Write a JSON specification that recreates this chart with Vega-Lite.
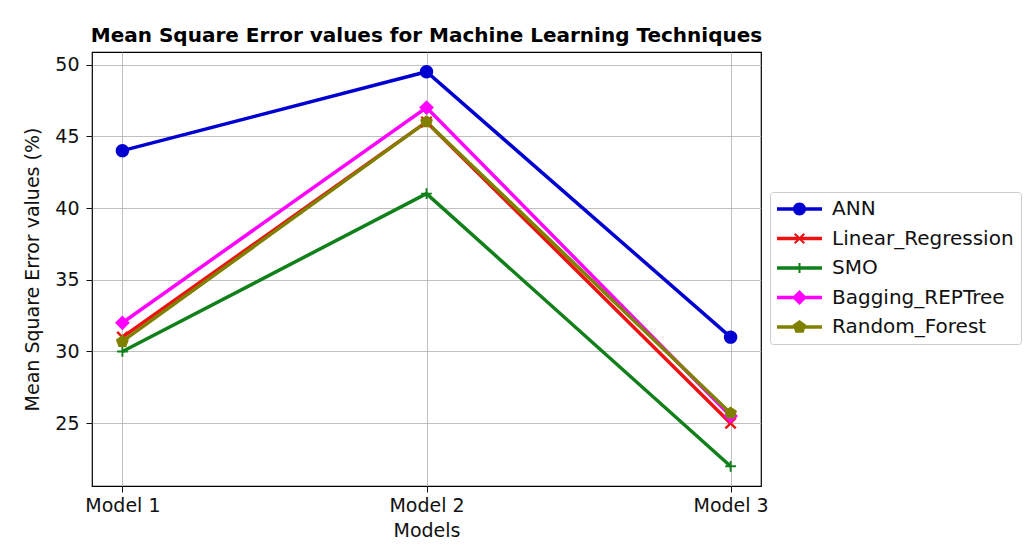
{
  "$schema": "https://vega.github.io/schema/vega-lite/v6.json",
  "width": 669,
  "height": 434,
  "autosize": {"type": "none"},
  "padding": {"left": 92, "top": 52, "right": 267, "bottom": 70},
  "background": "white",
  "title": {
    "text": "Mean Square Error values for Machine Learning Techniques",
    "font": "DejaVu Sans",
    "fontSize": 20,
    "fontWeight": "bold",
    "color": "black",
    "anchor": "middle",
    "offset": 6
  },
  "data": {
    "values": [
      {"model": "Model 1", "series": "ANN", "mse": 44},
      {"model": "Model 2", "series": "ANN", "mse": 49.5},
      {"model": "Model 3", "series": "ANN", "mse": 31},
      {"model": "Model 1", "series": "Linear_Regression", "mse": 31},
      {"model": "Model 2", "series": "Linear_Regression", "mse": 46},
      {"model": "Model 3", "series": "Linear_Regression", "mse": 25},
      {"model": "Model 1", "series": "SMO", "mse": 30},
      {"model": "Model 2", "series": "SMO", "mse": 41},
      {"model": "Model 3", "series": "SMO", "mse": 22},
      {"model": "Model 1", "series": "Bagging_REPTree", "mse": 32},
      {"model": "Model 2", "series": "Bagging_REPTree", "mse": 47},
      {"model": "Model 3", "series": "Bagging_REPTree", "mse": 25.5},
      {"model": "Model 1", "series": "Random_Forest", "mse": 30.7},
      {"model": "Model 2", "series": "Random_Forest", "mse": 46},
      {"model": "Model 3", "series": "Random_Forest", "mse": 25.7}
    ]
  },
  "config": {
    "view": {"stroke": "black", "strokeWidth": 1.2},
    "font": "DejaVu Sans",
    "axis": {
      "labelFont": "DejaVu Sans",
      "labelFontSize": 19,
      "labelColor": "#111",
      "titleFont": "DejaVu Sans",
      "titleFontSize": 19,
      "titleFontWeight": "normal",
      "titleColor": "#111",
      "tickColor": "#111",
      "tickSize": 6,
      "tickWidth": 1,
      "domain": false,
      "gridColor": "#b0b0b0",
      "gridWidth": 1,
      "gridOpacity": 0.8
    }
  },
  "encoding": {
    "x": {
      "field": "model",
      "type": "ordinal",
      "scale": {"type": "point", "padding": 0.1},
      "axis": {"title": "Models", "labelAngle": 0, "labelPadding": 4, "titlePadding": 6, "grid": true}
    },
    "y": {
      "field": "mse",
      "type": "quantitative",
      "scale": {"domain": [20.625, 50.875], "nice": false, "zero": false},
      "axis": {"title": "Mean Square Error values (%)", "values": [25, 30, 35, 40, 45, 50], "labelPadding": 7, "titlePadding": 12, "grid": true}
    },
    "color": {
      "field": "series",
      "type": "nominal",
      "scale": {
        "domain": ["ANN", "Linear_Regression", "SMO", "Bagging_REPTree", "Random_Forest"],
        "range": ["#0000d0", "#ee1111", "#11801a", "#ff00ff", "#808000"]
      },
      "legend": {
        "title": null,
        "orient": "none",
        "legendX": 678,
        "legendY": 140,
        "padding": 7,
        "strokeColor": "#cccccc",
        "fillColor": "white",
        "cornerRadius": 3,
        "labelFont": "DejaVu Sans",
        "labelFontSize": 20,
        "labelColor": "#111",
        "labelLimit": 400,
        "labelOffset": 35,
        "symbolSize": 400,
        "symbolStrokeWidth": 0,
        "rowPadding": 9.5,
        "encode": {
          "symbols": {
            "update": {
              "shape": {"signal": "datum.value==='ANN' ? 'M-1,-0.17 H3.5 V0.17 H-1 Z M1.9,0 A0.65,0.65 0 1,1 0.6,0 A0.65,0.65 0 1,1 1.9,0 Z' : datum.value==='Linear_Regression' ? 'M-1,-0.17 H3.5 V0.17 H-1 Z M0.70,-0.41 L0.84,-0.55 L1.25,-0.14 L1.66,-0.55 L1.80,-0.41 L1.39,0 L1.80,0.41 L1.66,0.55 L1.25,0.14 L0.84,0.55 L0.70,0.41 L1.11,0 Z' : datum.value==='SMO' ? 'M-1,-0.17 H3.5 V0.17 H-1 Z M1.15,-0.5 H1.35 V0.5 H1.15 Z' : datum.value==='Bagging_REPTree' ? 'M-1,-0.17 H3.5 V0.17 H-1 Z M1.25,-0.75 L2.0,0 L1.25,0.75 L0.5,0 Z' : 'M-1,-0.17 H3.5 V0.17 H-1 Z M1.25,-0.7 L1.916,-0.216 L1.662,0.566 L0.838,0.566 L0.584,-0.216 Z'"},
              "fill": {"signal": "scale('color', datum.value)"},
              "opacity": {"value": 1},
              "strokeWidth": {"value": 0}
            }
          }
        }
      }
    }
  },
  "layer": [
    {
      "mark": {"type": "line", "strokeWidth": 3.5}
    },
    {
      "transform": [{"filter": "datum.series === 'ANN'"}],
      "mark": {"type": "point", "filled": true, "opacity": 1, "size": 180, "strokeWidth": 0, "shape": "M1,0 A1,1 0 1,1 -1,0 A1,1 0 1,1 1,0 Z"}
    },
    {
      "transform": [{"filter": "datum.series === 'Linear_Regression'"}],
      "mark": {"type": "point", "filled": true, "opacity": 1, "size": 180, "strokeWidth": 0, "shape": "M-0.9,-0.65 L-0.65,-0.9 L0,-0.25 L0.65,-0.9 L0.9,-0.65 L0.25,0 L0.9,0.65 L0.65,0.9 L0,0.25 L-0.65,0.9 L-0.9,0.65 L-0.25,0 Z"}
    },
    {
      "transform": [{"filter": "datum.series === 'SMO'"}],
      "mark": {"type": "point", "filled": true, "opacity": 1, "size": 180, "strokeWidth": 0, "shape": "M-0.14,-0.8 H0.14 V-0.14 H0.8 V0.14 H0.14 V0.8 H-0.14 V0.14 H-0.8 V-0.14 H-0.14 Z"}
    },
    {
      "transform": [{"filter": "datum.series === 'Bagging_REPTree'"}],
      "mark": {"type": "point", "filled": true, "opacity": 1, "size": 180, "strokeWidth": 0, "shape": "M0,-1.1 L1.1,0 L0,1.1 L-1.1,0 Z"}
    },
    {
      "transform": [{"filter": "datum.series === 'Random_Forest'"}],
      "mark": {"type": "point", "filled": true, "opacity": 1, "size": 180, "strokeWidth": 0, "shape": "M0,-1 L0.951,-0.309 L0.588,0.809 L-0.588,0.809 L-0.951,-0.309 Z"}
    }
  ]
}
